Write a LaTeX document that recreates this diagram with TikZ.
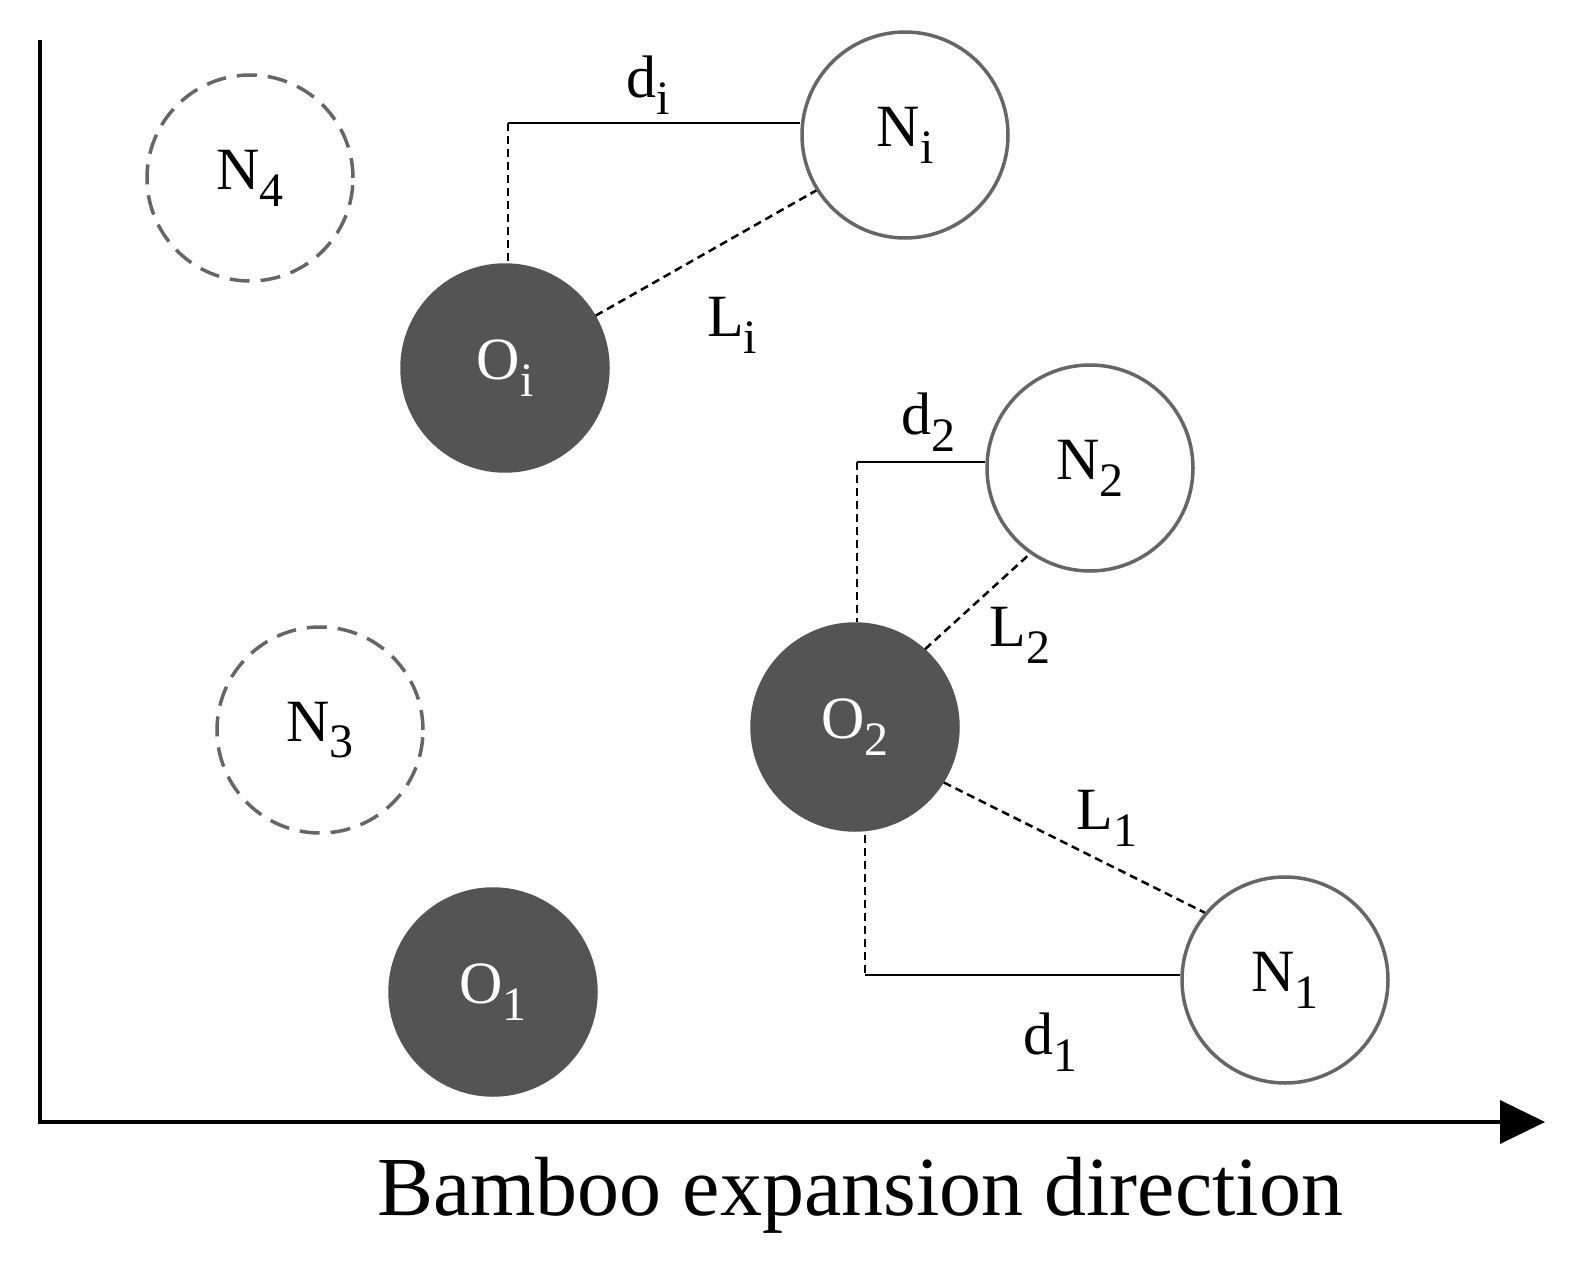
\documentclass[tikz,border=0pt]{standalone}
\usepackage{fontspec}
\setmainfont{Liberation Serif}
\newcommand{\lbl}[2]{#1\raisebox{-0.28em}{\scalebox{0.8}{#2}}}
\begin{document}
\begin{tikzpicture}[x=1pt,y=-1pt,
  circ/.style={circle,draw=black!60,line width=3.5pt,minimum size=206pt,inner sep=0pt,font=\fontsize{60}{60}\selectfont},
  opencirc/.style={circ,fill=white},
  dashcirc/.style={circ,dash pattern=on 20pt off 11pt},
  solidcirc/.style={circ,fill=black!67,draw=black!67,text=white},
  sl/.style={line width=2.5pt},
  dl/.style={line width=2.5pt,dash pattern=on 8pt off 5pt},
  lab/.style={font=\fontsize{60}{60}\selectfont}]
\useasboundingbox (0,0) rectangle (1575,1266);
\coordinate (ya) at (40,40);
\coordinate (org) at (40,1122);
\coordinate (xa) at (1545,1122);
\draw[line width=3.5pt] (ya) -- (org) -- (1505,1122);
\fill (1500,1100) -- (xa) -- (1500,1144) -- cycle;
\node[dashcirc] (N4) at (250,178) {\lbl{N}{4}};
\node[opencirc] (Ni) at (905,135) {\lbl{N}{i}};
\node[solidcirc] (Oi) at (505,368) {\lbl{O}{i}};
\node[opencirc] (N2) at (1090,468) {\lbl{N}{2}};
\node[solidcirc] (O2) at (855,727) {\lbl{O}{2}};
\node[dashcirc] (N3) at (320,730) {\lbl{N}{3}};
\node[solidcirc] (O1) at (493,992) {\lbl{O}{1}};
\node[opencirc] (N1) at (1285,980) {\lbl{N}{1}};
\coordinate (ci) at (508,123);
\coordinate (c2) at (857,462);
\coordinate (c1) at (865,975);
\draw[sl] (ci) -- (ci -| Ni.west);
\draw[dl] (ci) -- (ci |- Oi.north);
\draw[dl] (Oi.30) -- (Ni.212);
\draw[sl] (c2) -- (c2 -| N2.west);
\draw[dl] (c2) -- (c2 |- O2.north);
\draw[dl] (O2.48) -- (N2.235);
\draw[dl] (O2.-32) -- (N1.140);
\draw[dl] (865,835) -- (c1);
\draw[sl] (c1) -- (c1 -| N1.west);
\node[lab] (ldi) at (648,85) {\lbl{d}{i}};
\node[lab] (lLi) at (732,325) {\lbl{L}{i}};
\node[lab] (ld2) at (928,422) {\lbl{d}{2}};
\node[lab] (lL2) at (1020,635) {\lbl{L}{2}};
\node[lab] (lL1) at (1107,818) {\lbl{L}{1}};
\node[lab] (ld1) at (1050,1042) {\lbl{d}{1}};
\node[font=\fontsize{84}{84}\selectfont] (t) at (860,1195) {Bamboo expansion direction};
\end{tikzpicture}
\end{document}
